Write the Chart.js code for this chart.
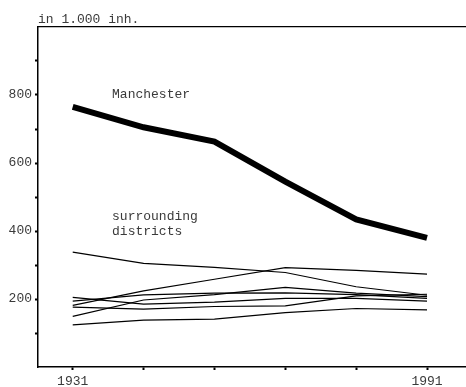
<!DOCTYPE html>
<html>
<head>
<meta charset="utf-8">
<script src="https://cdn.jsdelivr.net/npm/chart.js@4/dist/chart.umd.min.js"></script>
<style>
  html, body { margin: 0; padding: 0; background: #fff; }
  #wrap { width: 466px; height: 387px; position: relative; }
</style>
</head>
<body>
<div id="wrap"><canvas id="c"></canvas></div>
<script>
// Census years (equally spaced on the axis)
const years = ['1931', '1951', '1961', '1971', '1981', '1991'];
const shownYears = ['1931', '1991'];

// Population, in 1.000 inhabitants
const manchester = [765, 705, 663, 545, 434, 380];
const districtA = [338, 305, 293, 278, 236, 211];
const districtB = [181, 224, 258, 292, 284, 273];
const districtC = [205, 185, 191, 202, 202, 194];
const districtD = [194, 212, 217, 218, 213, 202];
const districtE = [149, 197, 213, 234, 217, 207];
const districtF = [176, 170, 178, 180, 209, 214];
const districtG = [124, 138, 141, 160, 172, 168];
const districts = [districtA, districtB, districtC, districtD, districtE, districtF, districtG];

// Y tick values and which of them carry a label
const yTicks = [100, 200, 300, 400, 500, 600, 700, 800, 900];
const yLabelled = [200, 400, 600, 800];

const FONT = '"Liberation Mono", "DejaVu Sans Mono", monospace';
const TEXT = '#3a3a3a';

const toPoints = arr => arr.map((v, i) => ({ x: i, y: v }));

const datasets = [
  {
    label: 'Manchester',
    data: toPoints(manchester),
    borderColor: '#000',
    borderWidth: 6,
    borderJoinStyle: 'miter',
    pointRadius: 0,
    tension: 0
  },
  ...districts.map((d, k) => ({
    label: 'district ' + (k + 1),
    data: toPoints(d),
    borderColor: '#000',
    borderWidth: 1.2,
    pointRadius: 0,
    tension: 0
  }))
];

// Free text labels placed in data space
const notes = [
  { text: 'Manchester', x: 0.555, y: 800 },
  { text: 'surrounding', x: 0.555, y: 442 },
  { text: 'districts', x: 0.555, y: 397 }
];

const annotate = {
  id: 'annotate',
  afterDraw(chart) {
    const { ctx, chartArea, scales } = chart;
    ctx.save();
    ctx.font = '13px ' + FONT;
    ctx.fillStyle = TEXT;
    ctx.textBaseline = 'middle';
    ctx.textAlign = 'left';
    notes.forEach(n => {
      ctx.fillText(n.text, scales.x.getPixelForValue(n.x), scales.y.getPixelForValue(n.y));
    });
    ctx.fillText('in 1.000 inh.', chartArea.left, chartArea.top - 7);
    ctx.restore();
  }
};

new Chart(document.getElementById('c'), {
  type: 'line',
  data: { datasets },
  plugins: [annotate],
  options: {
    responsive: true,
    maintainAspectRatio: false,
    animation: false,
    layout: { padding: { top: 27, left: 0, right: 0, bottom: 0 } },
    plugins: { legend: { display: false }, tooltip: { enabled: false } },
    scales: {
      x: {
        type: 'linear',
        min: -0.49,
        max: 5.55,
        afterBuildTicks: s => { s.ticks = years.map((y, i) => ({ value: i })); },
        afterFit: s => { s.height = 20; },
        border: { display: true, color: '#000', width: 1.5 },
        grid: { drawOnChartArea: false, drawTicks: true, tickLength: 3, tickWidth: 2, color: '#000' },
        ticks: {
          padding: 4,
          maxRotation: 0,
          autoSkip: false,
          color: TEXT,
          font: { family: FONT, size: 13 },
          callback: v => (shownYears.includes(years[v]) ? years[v] : '')
        }
      },
      xTop: {
        type: 'linear',
        position: 'top',
        min: -0.49,
        max: 5.55,
        afterFit: s => { s.height = 0; },
        border: { display: true, color: '#000', width: 1.2 },
        grid: { display: false },
        ticks: { display: false }
      },
      y: {
        min: 0,
        max: 1000,
        afterBuildTicks: s => { s.ticks = yTicks.map(v => ({ value: v })); },
        afterFit: s => { s.width = 38; },
        border: { display: true, color: '#000', width: 1.5 },
        grid: { drawOnChartArea: false, drawTicks: true, tickLength: 3, tickWidth: 2, color: '#000' },
        ticks: {
          padding: 3,
          color: TEXT,
          font: { family: FONT, size: 13 },
          callback: v => (yLabelled.includes(v) ? String(v) : '')
        }
      }
    }
  }
});
</script>
</body>
</html>
